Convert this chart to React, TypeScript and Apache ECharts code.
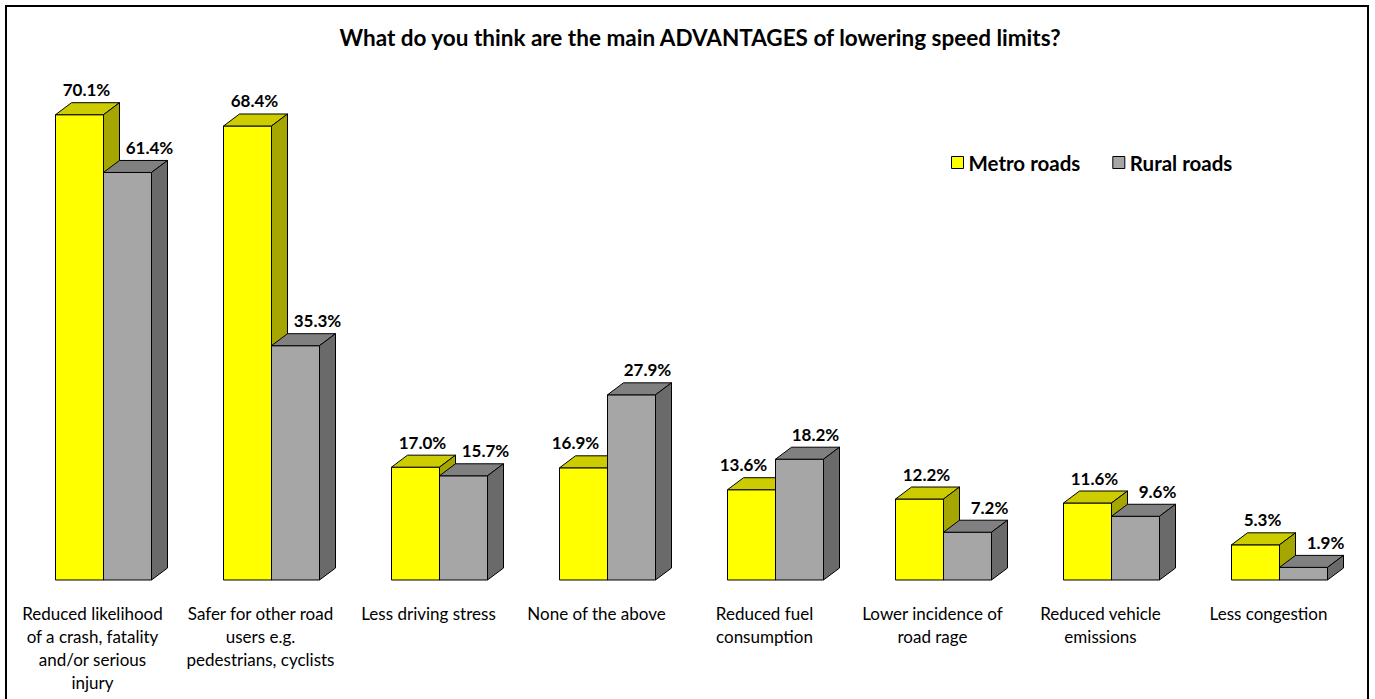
import React, { useEffect, useRef } from "react";
import * as echarts from "echarts";

const categories = [
  "Reduced likelihood\nof a crash, fatality\nand/or serious\ninjury",
  "Safer for other road\nusers e.g.\npedestrians, cyclists",
  "Less driving stress",
  "None of the above",
  "Reduced fuel\nconsumption",
  "Lower incidence of\nroad rage",
  "Reduced vehicle\nemissions",
  "Less congestion",
];
const metroRoads = [70.1, 68.4, 17.0, 16.9, 13.6, 12.2, 11.6, 5.3];
const ruralRoads = [61.4, 35.3, 15.7, 27.9, 18.2, 7.2, 9.6, 1.9];
const seriesNames = ["Metro roads", "Rural roads"];

const FONT = "Lato, 'Noto Sans', sans-serif";
const BAR_FRAC = 48 / 168;
const OFFSET_FRAC = 11 / 168;
const DX = 16;
const DY = 12;

const palettes = [
  { front: "#FFFF00", top: "#CCCC00", side: "#A6A600" },
  { front: "#A6A6A6", top: "#808080", side: "#6A6A6A" },
];

function labelShift(si: number, i: number) {
  const ruralTaller = ruralRoads[i] > metroRoads[i];
  if (si === 0) return ruralTaller ? -8 : 7;
  return ruralTaller ? 16 : 22;
}

function makeRender(si: number) {
  return (params: any, api: any) => {
    const i = api.value(0);
    const v = api.value(1);
    const base = api.coord([i, 0]);
    const topPt = api.coord([i, v]);
    const band = api.size([1, 0])[0];
    const w = band * BAR_FRAC;
    const cx = base[0] + band * OFFSET_FRAC;
    const x0 = si === 0 ? cx - w : cx;
    const x1 = x0 + w;
    const yb = base[1];
    const yt = topPt[1];
    const p = palettes[si];
    const stroke = { stroke: "#000", lineWidth: 1 };
    return {
      type: "group",
      children: [
        {
          type: "polygon",
          shape: { points: [[x0, yt], [x1, yt], [x1, yb], [x0, yb]] },
          style: { fill: p.front, ...stroke },
        },
        {
          type: "polygon",
          shape: { points: [[x0, yt], [x0 + DX, yt - DY], [x1 + DX, yt - DY], [x1, yt]] },
          style: { fill: p.top, ...stroke },
        },
        {
          type: "polygon",
          shape: { points: [[x1, yt], [x1 + DX, yt - DY], [x1 + DX, yb - DY], [x1, yb]] },
          style: { fill: p.side, ...stroke },
        },
        {
          type: "text",
          style: {
            text: v.toFixed(1) + "%",
            x: x0 + w / 2 + labelShift(si, i),
            y: yt - DY - 13,
            textAlign: "center",
            textVerticalAlign: "middle",
            fontFamily: FONT,
            fontSize: 17,
            fontWeight: "bold",
            fill: "#000",
          },
        },
      ],
    };
  };
}

export default function App() {
  const ref = useRef<HTMLDivElement>(null);
  useEffect(() => {
    if (!ref.current) return;
    const chart = echarts.init(ref.current, null, { renderer: "svg" });
    const seriesData = [metroRoads, ruralRoads];
    chart.setOption({
      animation: false,
      backgroundColor: "#fff",
      title: {
        text: "What do you think are the main ADVANTAGES of lowering speed limits?",
        left: 700,
        textAlign: "center",
        top: 25.5,
        padding: 0,
        textStyle: { fontFamily: FONT, fontSize: 22.5, fontWeight: "bold", color: "#000" },
      },
      legend: {
        data: seriesNames,
        left: 951,
        top: 152,
        padding: 0,
        icon: "rect",
        itemWidth: 12,
        itemHeight: 12,
        itemGap: 32,
        selectedMode: false,
        itemStyle: { borderColor: "#000", borderWidth: 1 },
        textStyle: { fontFamily: FONT, fontSize: 20.5, fontWeight: "bold", color: "#000" },
      },
      graphic: [
        {
          type: "rect",
          shape: { x: 6, y: 6, width: 1362, height: 720 },
          style: { fill: "none", stroke: "#000", lineWidth: 2 },
          silent: true,
        },
      ],
      grid: { left: 8.5, right: 22.5, top: 49, bottom: 119 },
      xAxis: {
        type: "category",
        data: categories,
        axisLine: { show: false },
        axisTick: { show: false },
        axisLabel: {
          interval: 0,
          margin: 22,
          fontFamily: FONT,
          fontSize: 17,
          lineHeight: 23,
          color: "#000",
          verticalAlign: "top",
        },
      },
      yAxis: { type: "value", min: 0, max: 80, show: false, splitLine: { show: false } },
      series: seriesData.map((arr, si) => ({
        type: "custom",
        name: seriesNames[si],
        renderItem: makeRender(si),
        encode: { x: 0, y: 1 },
        itemStyle: { color: palettes[si].front, borderColor: "#000", borderWidth: 1 },
        data: arr.map((v, i) => [i, v]),
      })),
    });
    return () => chart.dispose();
  }, []);
  return (
    <div
      ref={ref}
      style={{ position: "fixed", left: 0, top: 0, width: 1375, height: 699 }}
    />
  );
}
